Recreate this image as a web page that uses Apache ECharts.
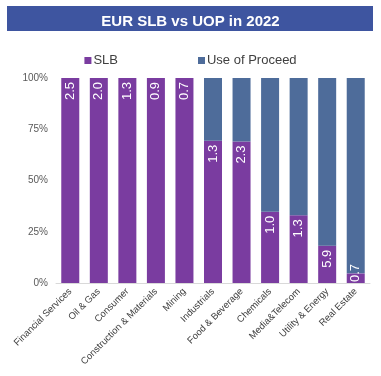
<!DOCTYPE html>
<html>
<head>
<meta charset="utf-8">
<script src="https://cdn.jsdelivr.net/npm/echarts@6/dist/echarts.min.js"></script>
<style>
  html, body { margin: 0; padding: 0; background: #fff; }
  #main { width: 381px; height: 376px; }
</style>
</head>
<body>
<div id="main"></div>
<script>
var sectors = ['Financial Services', 'Oil & Gas', 'Consumer', 'Construction & Materials', 'Mining',
    'Industrials', 'Food & Beverage', 'Chemicals', 'Media&Telecom', 'Utility & Energy', 'Real Estate'];
// share of SLB in each sector (%)
var slbShare = [100, 100, 100, 100, 100, 69.4, 69, 34.8, 33, 18.2, 4.7];
// SLB amount shown on the bars
var slbAmount = ['2.5', '2.0', '1.3', '0.9', '0.7', '1.3', '2.3', '1.0', '1.3', '5.9', '0.7'];
var uopShare = slbShare.map(function (v) { return +(100 - v).toFixed(1); });

var myChart = echarts.init(document.getElementById('main'));

var slbData = slbShare.map(function (v, i) {
    var d = { value: v };
    if (v < 10) {
        // too short for the label: start it from the bottom
        d.label = { position: 'insideBottom', align: 'left', distance: 1 };
    }
    return d;
});

option = {
    textStyle: { fontFamily: 'Liberation Sans, Arial, sans-serif' },
    title: {
        text: 'EUR SLB vs UOP in 2022',
        left: 'center',
        top: 9,
        textStyle: { color: '#fff', fontSize: 15, fontWeight: 'bold' }
    },
    graphic: [{
        type: 'rect',
        z: -1,
        shape: { x: 7, y: 6, width: 366, height: 25 },
        style: { fill: '#3E55A0' }
    }],
    legend: {
        top: 49,
        left: 'center',
        itemWidth: 7,
        itemHeight: 7,
        itemGap: 80,
        icon: 'rect',
        textStyle: { fontSize: 13, color: '#404040', padding: [0, 0, 0, -3] },
        data: ['SLB', 'Use of Proceed']
    },
    grid: { left: 56, right: 11, top: 78, bottom: 93 },
    xAxis: {
        type: 'category',
        data: sectors,
        axisTick: { show: false },
        axisLine: { lineStyle: { color: '#d9d9d9', width: 1 } },
        axisLabel: { rotate: 45, interval: 0, fontSize: 9.5, color: '#404040', margin: 7 }
    },
    yAxis: {
        type: 'value',
        min: 0,
        max: 100,
        interval: 25,
        splitLine: { show: false },
        axisLabel: { formatter: '{value}%', fontSize: 10, color: '#595959', margin: 8 }
    },
    series: [{
        name: 'SLB',
        type: 'bar',
        stack: 'all',
        barWidth: 18,
        data: slbData,
        itemStyle: { color: '#7A3CA0' },
        label: {
            show: true,
            position: 'insideTop',
            rotate: 90,
            align: 'right',
            verticalAlign: 'middle',
            distance: 4,
            color: '#fff',
            fontSize: 13,
            formatter: function (p) { return slbAmount[p.dataIndex]; }
        }
    }, {
        name: 'Use of Proceed',
        type: 'bar',
        stack: 'all',
        barWidth: 18,
        data: uopShare,
        itemStyle: { color: '#4E6C9A' }
    }]
};

myChart.setOption(option);
</script>
</body>
</html>
